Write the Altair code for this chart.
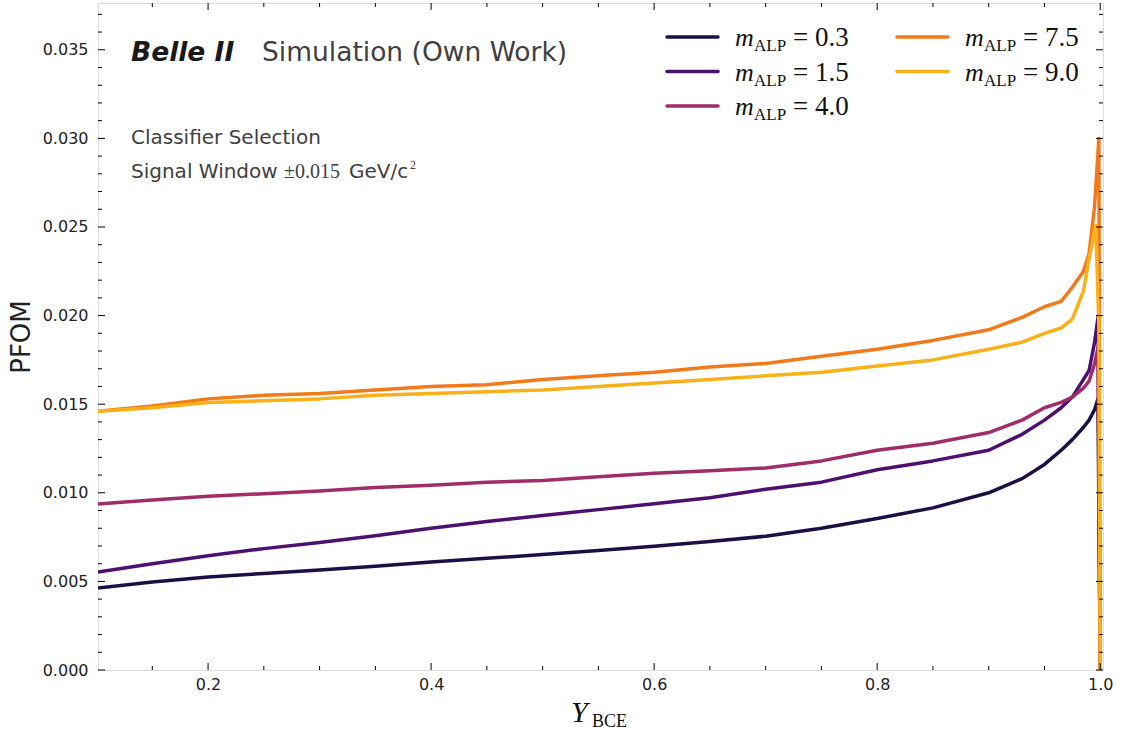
import altair as alt
import pandas as pd

# Signal masses (GeV/c^2) and their line colours
masses = ["0.3", "1.5", "4.0", "7.5", "9.0"]
colors = ["#1d0f45", "#4e1070", "#a02d68", "#f37a1b", "#fbb01a"]

# PFOM as a function of the classifier cut Y_BCE, one curve per mass
y_bce_03 = [0.1013, 0.15, 0.2, 0.25, 0.3, 0.35, 0.4, 0.45, 0.5, 0.55, 0.6, 0.65, 0.7, 0.75, 0.8,
            0.85, 0.9, 0.93, 0.95, 0.965, 0.975, 0.985, 0.99, 0.995, 0.998, 1.0]
pfom_03 = [0.00463, 0.00497, 0.00525, 0.00545, 0.00565, 0.00585, 0.00610, 0.00630, 0.00652,
           0.00675, 0.00698, 0.00725, 0.00755, 0.00800, 0.00855, 0.00915, 0.0100, 0.0108,
           0.0116, 0.0124, 0.0130, 0.0137, 0.0141, 0.0147, 0.0153, 0.0]

y_bce_15 = [0.1013, 0.15, 0.2, 0.25, 0.3, 0.35, 0.4, 0.45, 0.5, 0.55, 0.6, 0.65, 0.7, 0.75, 0.8,
            0.85, 0.9, 0.93, 0.95, 0.965, 0.975, 0.985, 0.99, 0.995, 0.998, 1.0]
pfom_15 = [0.00553, 0.00600, 0.00645, 0.00685, 0.00720, 0.00758, 0.00800, 0.00838, 0.00872,
           0.00905, 0.00938, 0.00972, 0.0102, 0.0106, 0.0113, 0.0118, 0.0124, 0.0133,
           0.0141, 0.0148, 0.0154, 0.0164, 0.0169, 0.0185, 0.0199, 0.0]

y_bce_40 = [0.1013, 0.15, 0.2, 0.25, 0.3, 0.35, 0.4, 0.45, 0.5, 0.55, 0.6, 0.65, 0.7, 0.75, 0.8,
            0.85, 0.9, 0.93, 0.95, 0.965, 0.975, 0.985, 0.99, 0.995, 0.998, 1.0]
pfom_40 = [0.00937, 0.00960, 0.00980, 0.00995, 0.0101, 0.0103, 0.01043, 0.0106, 0.0107,
           0.0109, 0.0111, 0.01125, 0.0114, 0.0118, 0.0124, 0.0128, 0.0134, 0.0141,
           0.0148, 0.0151, 0.0154, 0.0159, 0.0163, 0.0173, 0.0182, 0.0]

y_bce_75 = [0.1013, 0.15, 0.2, 0.25, 0.3, 0.35, 0.4, 0.45, 0.5, 0.55, 0.6, 0.65, 0.7, 0.75, 0.8,
            0.85, 0.9, 0.93, 0.95, 0.965, 0.975, 0.985, 0.99, 0.995, 0.9988, 1.0]
pfom_75 = [0.0146, 0.0149, 0.0153, 0.0155, 0.0156, 0.0158, 0.0160, 0.0161, 0.0164, 0.0166,
           0.0168, 0.0171, 0.0173, 0.0177, 0.0181, 0.0186, 0.0192, 0.0199, 0.0205, 0.0208,
           0.0216, 0.0225, 0.0235, 0.0262, 0.0300, 0.0]

y_bce_90 = [0.1013, 0.15, 0.2, 0.25, 0.3, 0.35, 0.4, 0.45, 0.5, 0.55, 0.6, 0.65, 0.7, 0.75, 0.8,
            0.85, 0.9, 0.93, 0.95, 0.965, 0.975, 0.985, 0.99, 0.996, 0.9988, 1.0]
pfom_90 = [0.0146, 0.0148, 0.0151, 0.0152, 0.0153, 0.0155, 0.0156, 0.0157, 0.0158, 0.0160,
           0.0162, 0.0164, 0.0166, 0.0168, 0.01715, 0.0175, 0.0181, 0.0185, 0.0190, 0.0193,
           0.0198, 0.0214, 0.0232, 0.0251, 0.0194, 0.0]

curves = [(y_bce_03, pfom_03), (y_bce_15, pfom_15), (y_bce_40, pfom_40),
          (y_bce_75, pfom_75), (y_bce_90, pfom_90)]

# Tick positions
x_major = [0.2, 0.4, 0.6, 0.8, 1.0]
x_minor = [0.15, 0.25, 0.3, 0.35, 0.45, 0.5, 0.55, 0.65, 0.7, 0.75, 0.85, 0.9, 0.95]
y_major = [0.0, 0.005, 0.01, 0.015, 0.02, 0.025, 0.03, 0.035]
y_minor = [v / 1000 for v in range(0, 38) if v % 5 != 0]

W, H = 1005, 667
X_DOMAIN = [0.1013, 1.0025]
Y_DOMAIN = [0.0, 0.03764]
SANS = "DejaVu Sans"
SERIF = "Liberation Serif"
INK = "#222222"
GREY = "#404040"

x_scale = alt.Scale(domain=X_DOMAIN, nice=False, zero=False)
y_scale = alt.Scale(domain=Y_DOMAIN, nice=False, zero=True)

x_axis = alt.Axis(values=x_major, format=".1f", tickSize=0, domain=False, grid=False,
                  labelFont=SANS, labelFontSize=16, labelColor=INK, labelPadding=6,
                  title=None)
y_axis = alt.Axis(values=y_major, format=".3f", tickSize=0, domain=False, grid=False,
                  labelFont=SANS, labelFontSize=16, labelColor=INK, labelPadding=10,
                  title=None)


def xq(field):
    return alt.X(field, type="quantitative", scale=x_scale, axis=x_axis)


def yq(field):
    return alt.Y(field, type="quantitative", scale=y_scale, axis=y_axis)


one_row = pd.DataFrame({"k": [0]})


def label(text, x, y, size, font=SANS, color=INK, style="normal", weight="normal",
          align="left", baseline="alphabetic", angle=0):
    return alt.Chart(one_row).mark_text(
        font=font, fontSize=size, fontStyle=style, fontWeight=weight, color=color,
        align=align, baseline=baseline, angle=angle
    ).encode(x=alt.value(x), y=alt.value(y), text=alt.value(text))


layers = []

# Curves, drawn from lightest mass to heaviest so 9.0 sits on top
for mass, color, (xs, ys) in zip(masses, colors, curves):
    df = pd.DataFrame({"y_bce": xs, "pfom": ys, "i": range(len(xs))})
    layers.append(
        alt.Chart(df).mark_line(strokeWidth=3.5, color=color, strokeJoin="round", clip=True)
        .encode(x=xq("y_bce"), y=yq("pfom"), order="i:Q")
    )

# Inward ticks on all four sides
xt_major = pd.DataFrame({"v": x_major})
xt_minor = pd.DataFrame({"v": x_minor})
yt_major = pd.DataFrame({"v": y_major})
yt_minor = pd.DataFrame({"v": y_minor})
for df, length in [(xt_major, 7), (xt_minor, 4)]:
    layers.append(alt.Chart(df).mark_rule(color="black", strokeWidth=1)
                  .encode(x=xq("v"), y=alt.value(H), y2=alt.value(H - length)))
    layers.append(alt.Chart(df).mark_rule(color="black", strokeWidth=1)
                  .encode(x=xq("v"), y=alt.value(0), y2=alt.value(length)))
for df, length in [(yt_major, 7), (yt_minor, 4)]:
    layers.append(alt.Chart(df).mark_rule(color="black", strokeWidth=1)
                  .encode(y=yq("v"), x=alt.value(0), x2=alt.value(length)))
    layers.append(alt.Chart(df).mark_rule(color="black", strokeWidth=1)
                  .encode(y=yq("v"), x=alt.value(W), x2=alt.value(W - length)))

# Header annotations
layers.append(label("Belle II", 33, 58, 26.5, weight="bold", style="italic", color="#1a1a1a"))
layers.append(label("Simulation (Own Work)", 164, 58, 26.5, color=GREY))
layers.append(label("Classifier Selection", 33, 141, 20, color=GREY))
layers.append(label("Signal Window", 33, 175, 20, color=GREY))
layers.append(label("\u00b10.015", 186, 175, 20, font=SERIF, color=GREY))
layers.append(label("GeV/c", 251, 175, 20, color=GREY))
layers.append(label("2", 312, 166, 12, font=SERIF, color=GREY))

# Legend: two columns of line swatches with m_ALP labels
for i, (mass, color) in enumerate(zip(masses, colors)):
    col, row = divmod(i, 3)
    x0 = 569 + col * 230
    yr = 34 + row * 34.5
    layers.append(alt.Chart(one_row).mark_rule(color=color, strokeWidth=3.5, strokeCap="round")
                  .encode(x=alt.value(x0), x2=alt.value(x0 + 51), y=alt.value(yr)))
    layers.append(label("m", x0 + 68, yr + 9, 26, font=SERIF, style="italic", color="#111111"))
    layers.append(label("ALP", x0 + 87, yr + 14, 17, font=SERIF, color="#111111"))
    layers.append(label("= " + mass, x0 + 126, yr + 9, 27, font=SERIF, color="#111111"))

# Axis titles
layers.append(label("PFOM", -76, 334, 26, angle=270, align="center", baseline="middle"))
layers.append(label("Y", 473, 719, 30, font=SERIF, style="italic", color="#111111"))
layers.append(label("BCE", 494, 724, 18, font=SERIF, color="#111111"))

chart = alt.layer(*layers).properties(
    width=W, height=H,
    autosize=alt.AutoSizeParams(type="none"),
    padding={"left": 98, "top": 3, "right": 23, "bottom": 61},
).configure_view(stroke="black", strokeWidth=1.5).configure(background="white")

chart.save("out.html", embed_options={"renderer": "svg", "actions": False})
